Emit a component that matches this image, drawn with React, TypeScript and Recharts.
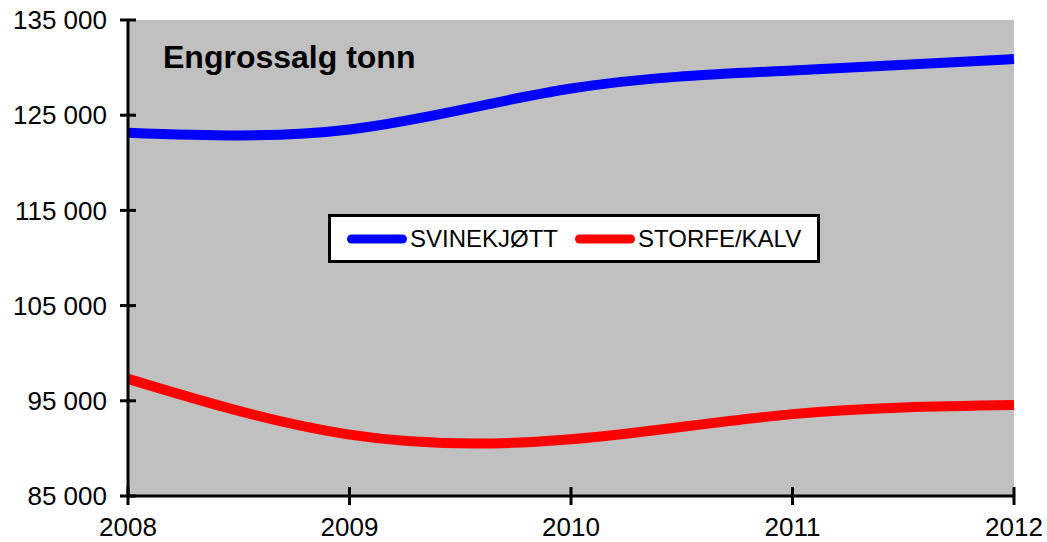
import React from "react";
import {
  LineChart,
  Line,
  XAxis,
  YAxis,
  CartesianGrid,
  Legend,
} from "recharts";

const years = [2008, 2009, 2010, 2011, 2012];
const svinekjott = [123150, 123500, 127800, 129700, 130900];
const storfeKalv = [97300, 91450, 90950, 93600, 94550];
const yTicks = [85000, 95000, 105000, 115000, 125000, 135000];
const seriesNames = ["SVINEKJØTT", "STORFE/KALV"];

const data = years.map((year, i) => ({
  year,
  svin: svinekjott[i],
  storfe: storfeKalv[i],
}));

const FONT = '"Liberation Sans", Arial, sans-serif';
const TICK = 8;
const Y_MARGIN = 13;
const X_MARGIN = 14;

const fmt = (v: number) => {
  const s = String(v);
  return s.length > 3 ? s.slice(0, -3) + " " + s.slice(-3) : s;
};

const YTick = (props: any) => {
  const { x, y, payload } = props;
  const axisX = x + Y_MARGIN + TICK;
  return (
    <g>
      <line x1={axisX - TICK} x2={axisX + TICK} y1={y} y2={y} stroke="#000" strokeWidth={3} />
      <text x={x} y={y} dy="0.355em" textAnchor="end" fontSize={26} fontFamily={FONT} fill="#000">
        {fmt(payload.value)}
      </text>
    </g>
  );
};

const XTick = (props: any) => {
  const { x, y, payload } = props;
  const axisY = y - X_MARGIN - TICK;
  return (
    <g>
      <line x1={x} x2={x} y1={axisY - 9} y2={axisY + 9} stroke="#000" strokeWidth={3} />
      <text x={x} y={y} dy="0.71em" textAnchor="middle" fontSize={26} fontFamily={FONT} fill="#000">
        {payload.value}
      </text>
    </g>
  );
};

const LegendBox = ({ payload }: any) => {
  const items = [...(payload || [])].sort(
    (a: any, b: any) => seriesNames.indexOf(a.value) - seriesNames.indexOf(b.value)
  );
  return (
    <div
      style={{
        boxSizing: "border-box",
        width: "100%",
        height: "100%",
        background: "#fff",
        border: "3px solid #000",
        display: "flex",
        alignItems: "center",
        paddingLeft: 16,
        gap: 17,
        fontFamily: FONT,
        fontSize: 24,
        color: "#000",
      }}
    >
      {items.map((p: any) => (
        <div key={p.value} style={{ display: "flex", alignItems: "center" }}>
          <svg width={60} height={12} style={{ display: "block" }}>
            <line x1={4.5} x2={55.5} y1={6} y2={6} stroke={p.color} strokeWidth={9} strokeLinecap="round" />
          </svg>
          <span style={{ marginLeft: 3, lineHeight: "24px" }}>{p.value}</span>
        </div>
      ))}
    </div>
  );
};

export default function App() {
  return (
    <div style={{ position: "absolute", left: 0, top: 0, width: 1047, height: 542, background: "#fff" }}>
      <LineChart
        width={1047}
        height={542}
        data={data}
        margin={{ top: 20, right: 33, bottom: 0, left: 0 }}
      >
        <CartesianGrid fill="#C0C0C0" horizontal={false} vertical={false} />
        <XAxis
          dataKey="year"
          type="number"
          domain={[2008, 2012]}
          ticks={years}
          height={46}
          axisLine={{ stroke: "#000", strokeWidth: 3 }}
          tickLine={false}
          tickSize={TICK}
          tickMargin={X_MARGIN}
          tick={<XTick />}
          interval={0}
        />
        <XAxis
          xAxisId="top"
          orientation="top"
          dataKey="year"
          type="number"
          domain={[2008, 2012]}
          height={0}
          tick={false}
          tickLine={false}
          axisLine={{ stroke: "#808080", strokeWidth: 2 }}
        />
        <YAxis
          domain={[85000, 135000]}
          ticks={yTicks}
          width={128}
          axisLine={{ stroke: "#000", strokeWidth: 3 }}
          tickLine={false}
          tickSize={TICK}
          tickMargin={Y_MARGIN}
          tick={<YTick />}
          interval={0}
        />
        <YAxis
          yAxisId="right"
          orientation="right"
          domain={[85000, 135000]}
          width={0}
          tick={false}
          tickLine={false}
          axisLine={{ stroke: "#808080", strokeWidth: 2 }}
        />
        <Legend
          layout="horizontal"
          verticalAlign="middle"
          align="center"
          wrapperStyle={{ left: 328, top: 214, width: 492, height: 49 }}
          content={<LegendBox />}
        />
        <Line
          type="natural"
          dataKey="svin"
          name={seriesNames[0]}
          stroke="#0000FF"
          strokeWidth={10}
          dot={false}
          activeDot={false}
          isAnimationActive={false}
        />
        <Line
          type="natural"
          dataKey="storfe"
          name={seriesNames[1]}
          stroke="#FF0000"
          strokeWidth={10}
          dot={false}
          activeDot={false}
          isAnimationActive={false}
        />
      </LineChart>
      <div
        style={{
          position: "absolute",
          left: 163,
          top: 41,
          fontFamily: FONT,
          fontWeight: "bold",
          fontSize: 32,
          lineHeight: "32px",
          color: "#000",
          whiteSpace: "nowrap",
        }}
      >
        Engrossalg tonn
      </div>
    </div>
  );
}
